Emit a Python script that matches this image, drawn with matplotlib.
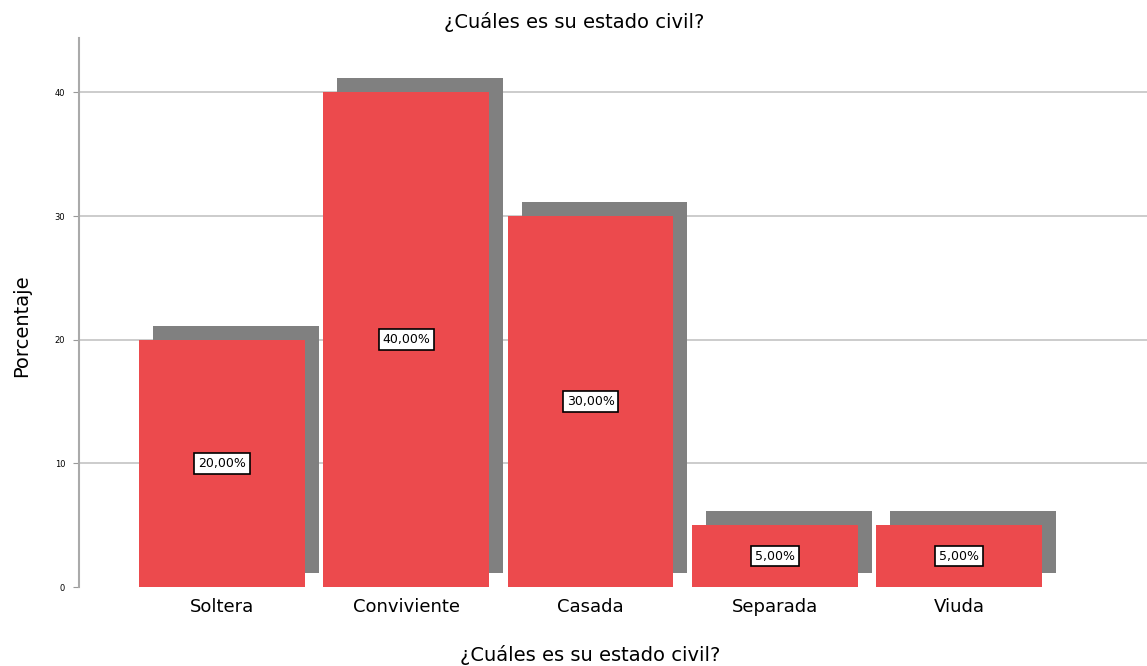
import matplotlib
matplotlib.use("Agg")
import matplotlib.pyplot as plt
import matplotlib.transforms as mtransforms

categories = ["Soltera", "Conviviente", "Casada", "Separada", "Viuda"]
values = [20, 40, 30, 5, 5]
labels = ["20,00%", "40,00%", "30,00%", "5,00%", "5,00%"]
yticks = [0, 10, 20, 30, 40]

plt.rcParams['font.family'] = ['DejaVu Sans']

fig = plt.figure(figsize=(11.47, 6.66), dpi=100)
ax = fig.add_axes([0.0689, 0.1186, 0.9311, 0.8244])

x = list(range(len(categories)))
shadow_tr = ax.transData + mtransforms.ScaledTranslation(0.14, 0.14, fig.dpi_scale_trans)
ax.bar(x, values, width=0.9, color="#808080", transform=shadow_tr, zorder=2)
ax.bar(x, values, width=0.9, color="#EC4A4D", zorder=3)

for xi, v, lab in zip(x, values, labels):
    ax.text(xi, v / 2, lab, ha="center", va="center", fontsize=9, zorder=5,
            bbox=dict(boxstyle="square,pad=0.3", fc="white", ec="black", lw=1.2))

ax.set_xlim(-0.776, 5.02)
ax.set_ylim(0, 44.4)
ax.set_yticks(yticks)
ax.set_yticklabels([str(t) for t in yticks], fontsize=6)
ax.set_xticks(x)
ax.set_xticklabels(categories, fontsize=13)
ax.tick_params(axis="x", length=0, pad=8)
ax.tick_params(axis="y", length=4, color="#999999", pad=6)
for t in yticks[1:]:
    ax.axhline(t, color="#c8c8c8", lw=1.3, zorder=0)
for s in ["top", "right", "bottom"]:
    ax.spines[s].set_visible(False)
ax.spines["left"].set_color("#aaaaaa")
ax.spines["left"].set_linewidth(1.5)

fig.text(574 / 1147, 1 - 22 / 666, "¿Cuáles es su estado civil?", fontsize=14,
         ha="center", va="center")
fig.text(590 / 1147, 1 - 655 / 666, "¿Cuáles es su estado civil?", fontsize=14,
         ha="center", va="center")
fig.text(22 / 1147, 1 - 326 / 666, "Porcentaje", fontsize=14, rotation=90,
         ha="center", va="center")

fig.savefig("out.png", dpi=100)
